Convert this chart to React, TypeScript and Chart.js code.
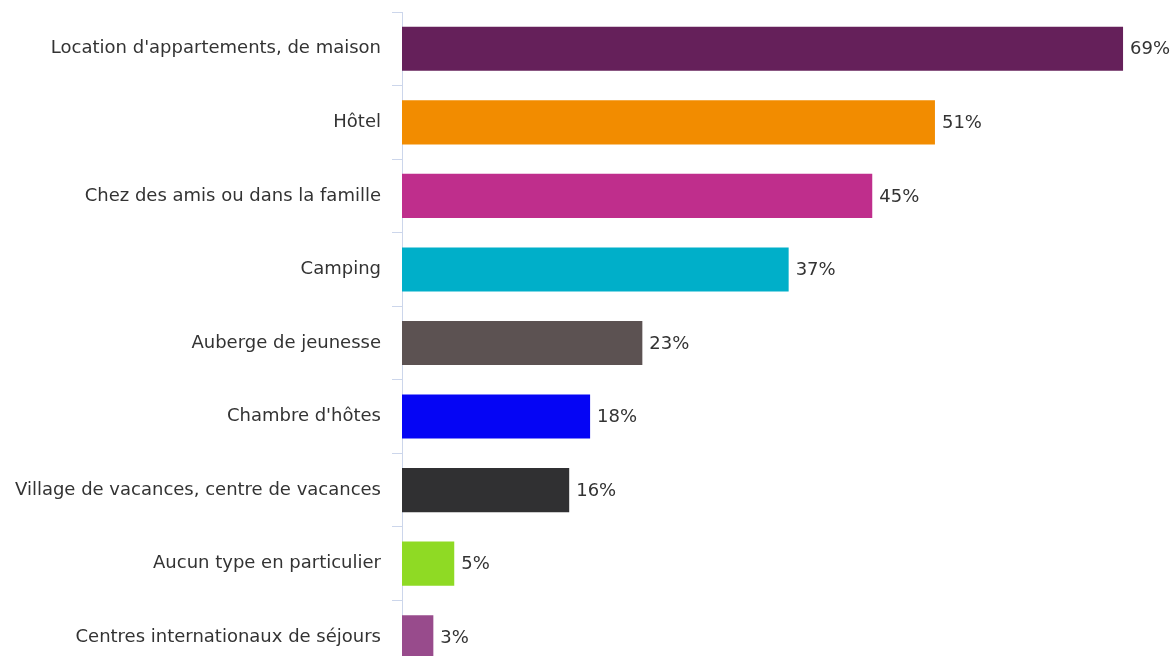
import React, { useEffect, useRef } from "react";
import { Chart, registerables } from "chart.js";

Chart.register(...registerables);

const categories = [
  "Location d'appartements, de maison",
  "Hôtel",
  "Chez des amis ou dans la famille",
  "Camping",
  "Auberge de jeunesse",
  "Chambre d'hôtes",
  "Village de vacances, centre de vacances",
  "Aucun type en particulier",
  "Centres internationaux de séjours",
];

const values = [69, 51, 45, 37, 23, 18, 16, 5, 3];

const barColors = [
  "#65205a",
  "#f28c00",
  "#bf2e8c",
  "#00afc9",
  "#5c5252",
  "#0505f5",
  "#303032",
  "#8fda24",
  "#984b8c",
];

const FONT = "'DejaVu Sans', Verdana, sans-serif";

const valueLabels = {
  id: "valueLabels",
  afterDatasetsDraw(chart: any) {
    const ctx = chart.ctx;
    const meta = chart.getDatasetMeta(0);
    ctx.save();
    ctx.font = `18px ${FONT}`;
    ctx.fillStyle = "#333333";
    ctx.textAlign = "left";
    ctx.textBaseline = "middle";
    meta.data.forEach((bar: any, i: number) => {
      ctx.fillText(values[i] + "%", bar.x + 7, bar.y + 1);
    });
    ctx.restore();
  },
};

export default function App() {
  const ref = useRef<HTMLCanvasElement>(null);

  useEffect(() => {
    if (!ref.current) return;
    const chart = new Chart(ref.current, {
      type: "bar",
      data: {
        labels: categories,
        datasets: [
          {
            data: values,
            backgroundColor: barColors,
            borderWidth: 0,
            barPercentage: 0.6,
            categoryPercentage: 1,
          },
        ],
      },
      options: {
        indexAxis: "y",
        responsive: false,
        animation: false,
        devicePixelRatio: 1,
        layout: { padding: { top: 12, bottom: 16, left: 0, right: 42.5 } },
        plugins: {
          legend: { display: false },
          tooltip: { enabled: false },
        },
        scales: {
          x: {
            display: false,
            min: 0,
            max: 70,
          },
          y: {
            grid: {
              display: true,
              drawOnChartArea: false,
              drawTicks: true,
              tickLength: 10,
              color: "#ccd6eb",
              offset: true,
            },
            border: { display: true, color: "#ccd6eb", width: 1 },
            ticks: {
              padding: 11,
              color: "#333333",
              font: { family: FONT, size: 18 },
              autoSkip: false,
            },
            afterFit(scale: any) {
              scale.width = 402;
              scale.paddingTop = 0;
              scale.paddingBottom = 0;
            },
          },
        },
      },
      plugins: [valueLabels],
    } as any);
    return () => chart.destroy();
  }, []);

  return (
    <div
      style={{
        position: "fixed",
        top: 0,
        left: 0,
        width: 1176,
        height: 656,
        overflow: "hidden",
        background: "#ffffff",
      }}
    >
      <canvas ref={ref} width={1176} height={690} style={{ display: "block" }} />
    </div>
  );
}
